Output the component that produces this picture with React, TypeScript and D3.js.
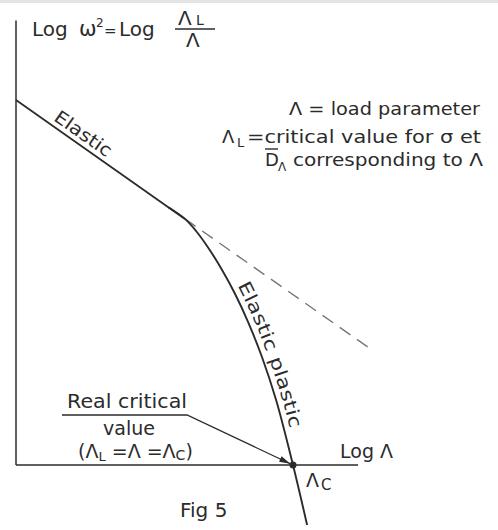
import * as d3 from "d3";

// log Λ / log ω² values (arbitrary log units)
const elasticLogL = [0, 6.1];
const elasticLogW = [18.72, 12.62];
const extrapLogL = [6.1, 12.85];
const extrapLogW = [12.62, 5.9];
const plasticLogL = [5.5, 6.1, 6.5, 6.97, 7.44, 7.91, 8.38, 8.88, 9.39, 10.0, 10.51];
const plasticLogW = [13.22, 12.62, 12.0, 11.08, 10.0, 8.77, 7.33, 5.54, 3.33, 0, -3.08];
const critical = { logL: 10, logW: 0 };
const axisMaxL = 12.35;
const axisMaxW = 22.8;

const W = 498;
const H = 530;
const font = "'DejaVu Sans', sans-serif";
const ink = "#2b2b2b";

const zip = (xs: number[], ys: number[]) => xs.map((v, i) => [v, ys[i]] as [number, number]);

export default function App() {
  const x = d3.scaleLinear([0, 10], [16, 293]);
  const y = d3.scaleLinear([0, 10], [465, 270]);

  const straight = d3.line<[number, number]>(d => x(d[0]), d => y(d[1]));
  const smooth = d3
    .line<[number, number]>(d => x(d[0]), d => y(d[1]))
    .curve(d3.curveCatmullRom.alpha(0.5));

  const elastic = zip(elasticLogL, elasticLogW);
  const extrap = zip(extrapLogL, extrapLogW);
  const plastic = zip(plasticLogL, plasticLogW);

  // leader for "Real critical value"
  const cx = x(critical.logL);
  const cy = y(critical.logW);
  const kneeX = 187;
  const kneeY = 415;
  const len = Math.hypot(cx - kneeX, cy - kneeY);
  const ux = (cx - kneeX) / len;
  const uy = (cy - kneeY) / len;
  const tipX = cx - ux * 3;
  const tipY = cy - uy * 3;
  const head = `M${tipX},${tipY} L${tipX - ux * 11 - uy * 3},${tipY - uy * 11 + ux * 3} L${tipX - ux * 11 + uy * 3},${tipY - uy * 11 - ux * 3} Z`;

  return (
    <svg
      width={W}
      height={H}
      style={{ position: "absolute", left: 0, top: 0, background: "#fff" }}
      fontFamily={font}
      fill={ink}
    >
      <rect x={0} y={0} width={W} height={3} fill="#e4e4e4" />
      <defs>
        <path id="elasticPath" d={straight(elastic) ?? ""} />
        <path id="plasticPath" d={smooth(plastic) ?? ""} />
      </defs>

      {/* axes */}
      <line x1={x(0)} x2={x(0)} y1={y(axisMaxW)} y2={y(0)} stroke={ink} strokeWidth={1.5} />
      <line x1={x(0)} x2={x(axisMaxL)} y1={y(0)} y2={y(0)} stroke={ink} strokeWidth={1.5} />

      {/* curves */}
      <path d={straight(elastic) ?? ""} fill="none" stroke={ink} strokeWidth={1.8} />
      <path d={straight(extrap) ?? ""} fill="none" stroke="#777" strokeWidth={1.4} strokeDasharray="13,8" />
      <path d={smooth(plastic) ?? ""} fill="none" stroke={ink} strokeWidth={1.9} />
      <circle cx={cx} cy={cy} r={3.5} fill={ink} />

      {/* curve labels */}
      <text fontSize={18}>
        <textPath href="#elasticPath" startOffset="36%" textAnchor="middle" textLength={66} lengthAdjust="spacingAndGlyphs">
          <tspan dy={-5}>Elastic</tspan>
        </textPath>
      </text>
      <text fontSize={18}>
        <textPath href="#plasticPath" startOffset="51%" textAnchor="middle" textLength={152} lengthAdjust="spacingAndGlyphs">
          <tspan dy={-6}>Elastic plastic</tspan>
        </textPath>
      </text>

      {/* y-axis title */}
      <g fontSize={20}>
        <text x={32} y={36}>Log</text>
        <text x={79} y={36} fontSize={21}>ω</text>
        <text x={96} y={27} fontSize={12}>2</text>
        <text x={104} y={36} fontSize={15}>=</text>
        <text x={119} y={36}>Log</text>
        <text x={178} y={25}>Λ</text>
        <text x={196} y={25} fontSize={14}>L</text>
        <line x1={175} x2={215} y1={29} y2={29} stroke={ink} strokeWidth={1.5} />
        <text x={186} y={47}>Λ</text>
      </g>

      {/* legend */}
      <g fontSize={18}>
        <text x={289} y={115} textLength={191} lengthAdjust="spacingAndGlyphs">Λ = load parameter</text>
        <text x={222} y={143}>Λ</text>
        <text x={237} y={147} fontSize={13}>L</text>
        <text x={247} y={143} textLength={234} lengthAdjust="spacingAndGlyphs">=critical value for σ et</text>
        <line x1={265} x2={278} y1={149} y2={149} stroke={ink} strokeWidth={1.4} />
        <text x={265} y={166}>D</text>
        <text x={278} y={171} fontSize={12}>Λ</text>
        <text x={293} y={166} textLength={190} lengthAdjust="spacingAndGlyphs">corresponding to Λ</text>
      </g>

      {/* critical value annotation */}
      <path
        d={`M62,${kneeY} L${kneeX},${kneeY} L${tipX},${tipY}`}
        fill="none"
        stroke={ink}
        strokeWidth={1.3}
      />
      <path d={head} fill={ink} />
      <g fontSize={19}>
        <text x={67} y={408} textLength={120} lengthAdjust="spacingAndGlyphs">Real critical</text>
        <text x={129} y={435} textAnchor="middle">value</text>
        <text x={78} y={458}>
          (Λ<tspan fontSize={13} dy={3}>L</tspan>
          <tspan dy={-3}> =Λ =Λ</tspan>
          <tspan fontSize={14} dy={2}>C</tspan>
          <tspan dy={-2}>)</tspan>
        </text>
        <text x={340} y={458}>Log Λ</text>
        <text x={306} y={487}>Λ</text>
        <text x={321} y={490} fontSize={15}>C</text>
        <text x={180} y={517} fontSize={20}>Fig 5</text>
      </g>
    </svg>
  );
}
